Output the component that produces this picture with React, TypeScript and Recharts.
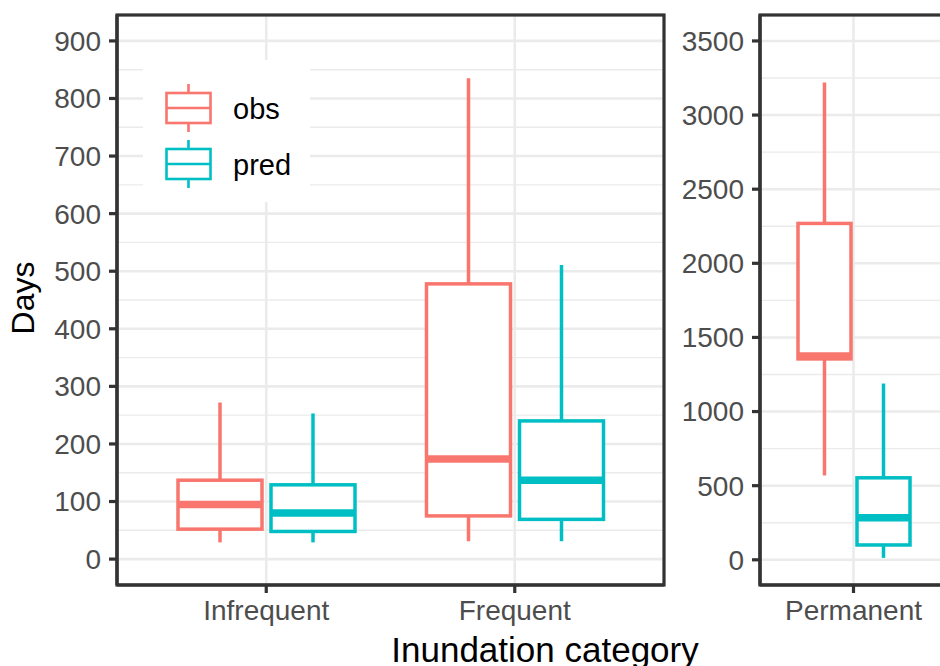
import React from 'react';
import { ComposedChart, Bar, XAxis, YAxis, CartesianGrid, Legend } from 'recharts';

// categories
const leftCategories = ['Infrequent', 'Frequent'];
const rightCategories = ['Permanent'];

// series
const seriesNames = ['obs', 'pred'];
const seriesColors = ['#F8766D', '#00BFC4'];

// box stats: [min, q1, median, q3, max]
const obsLeft = [
  [29, 52, 95, 137, 272],
  [31, 75, 174, 478, 835],
];
const predLeft = [
  [29, 48, 80, 129, 253],
  [31, 69, 137, 240, 511],
];
const obsRight = [[569, 1355, 1375, 2269, 3220]];
const predRight = [[13, 100, 284, 553, 1189]];

// ticks
const leftTicks = [0, 100, 200, 300, 400, 500, 600, 700, 800, 900];
const leftMinor = [50, 150, 250, 350, 450, 550, 650, 750, 850];
const rightTicks = [0, 500, 1000, 1500, 2000, 2500, 3000, 3500];
const rightMinor = [250, 750, 1250, 1750, 2250, 2750, 3250];
const leftDomain = [-45, 945];
const rightDomain = [-170, 3675];

const FONT = '"Liberation Sans", Arial, sans-serif';
const FRAME = '#333333';
const GRID = '#EBEBEB';

const buildRows = (cats: string[], obs: number[][], pred: number[][]) =>
  cats.map((c, i) => ({ category: c, obs: obs[i], pred: pred[i] }));

const leftRows = buildRows(leftCategories, obsLeft, predLeft);
const rightRows = buildRows(rightCategories, obsRight, predRight);

const makeBoxShape = (key: string, color: string) => (props: any) => {
  const { x, y, width, height, payload } = props;
  const s = payload[key];
  const mn = s[0], q1 = s[1], md = s[2], q3 = s[3], mx = s[4];
  const top = Math.min(y, y + height);
  const h = Math.abs(height);
  const py = (v: number) => top + (h * (mx - v)) / (mx - mn);
  const cx = x + width / 2;
  return (
    <g>
      <line x1={cx} x2={cx} y1={py(mx)} y2={py(q3)} stroke={color} strokeWidth={3.5} />
      <line x1={cx} x2={cx} y1={py(q1)} y2={py(mn)} stroke={color} strokeWidth={3.5} />
      <rect x={x} y={py(q3)} width={width} height={py(q1) - py(q3)} fill="#FFFFFF" stroke={color} strokeWidth={3.5} />
      <line x1={x} x2={x + width} y1={py(md)} y2={py(md)} stroke={color} strokeWidth={7.5} />
    </g>
  );
};

const LegendContent = () => (
  <div style={{ width: 167, height: 142, background: '#FFFFFF' }}>
    <svg width={167} height={142}>
      {seriesNames.map((n, i) => {
        const cy = 48 + i * 56;
        const cx = 45.5;
        const c = seriesColors[i];
        return (
          <g key={n}>
            <line x1={cx} x2={cx} y1={cy - 24} y2={cy + 24} stroke={c} strokeWidth={2.6} />
            <rect x={cx - 22} y={cy - 15} width={44} height={30} fill="#FFFFFF" stroke={c} strokeWidth={2.6} />
            <line x1={cx - 22} x2={cx + 22} y1={cy} y2={cy} stroke={c} strokeWidth={2.6} />
            <text x={90} y={cy + 10.5} fontFamily={FONT} fontSize={29} fill="#000000">
              {n}
            </text>
          </g>
        );
      })}
    </svg>
  </div>
);

const tickStyle = { fill: '#4D4D4D', fontSize: 28, fontFamily: FONT };

const Panel = ({ rows, ticks, minor, domain, width, yWidth, marginRight, padding, barSize, barGap, legend }: any) => (
  <ComposedChart
    width={width}
    height={666}
    data={rows}
    margin={{ top: 15, right: marginRight, left: 0, bottom: 41 }}
    barGap={barGap}
  >
    <CartesianGrid horizontalValues={minor} vertical={false} stroke={GRID} strokeWidth={1.4} />
    <CartesianGrid stroke={GRID} strokeWidth={2.6} />
    <XAxis
      dataKey="category"
      type="category"
      padding={padding}
      height={40}
      tickSize={8}
      tickMargin={7}
      tick={tickStyle}
      tickLine={{ stroke: FRAME, strokeWidth: 3.2 }}
      axisLine={{ stroke: FRAME, strokeWidth: 3.2 }}
      interval={0}
    />
    <YAxis
      type="number"
      domain={domain}
      ticks={ticks}
      interval={0}
      allowDataOverflow
      width={yWidth}
      tickSize={8}
      tickMargin={8}
      tick={tickStyle}
      tickLine={{ stroke: FRAME, strokeWidth: 3.2 }}
      axisLine={{ stroke: FRAME, strokeWidth: 3.2 }}
    />
    {seriesNames.map((n, i) => (
      <Bar
        key={n}
        name={n}
        dataKey={(row: any) => [row[n][0], row[n][4]]}
        fill={seriesColors[i]}
        barSize={barSize}
        isAnimationActive={false}
        shape={makeBoxShape(n, seriesColors[i])}
      />
    ))}
    {legend && (
      <Legend
        layout="vertical"
        align="center"
        verticalAlign="middle"
        content={<LegendContent />}
        wrapperStyle={{ left: 143, top: 60, width: 167, height: 142 }}
      />
    )}
  </ComposedChart>
);

export default function App() {
  return (
    <div
      style={{
        position: 'absolute',
        left: 0,
        top: 0,
        width: 940,
        height: 666,
        overflow: 'hidden',
        background: '#FFFFFF',
      }}
    >
      <div style={{ position: 'absolute', left: 0, top: 0 }}>
        <Panel
          rows={leftRows}
          ticks={leftTicks}
          minor={leftMinor}
          domain={leftDomain}
          width={680}
          yWidth={117}
          marginRight={16}
          padding={{ left: 25, right: 25 }}
          barSize={84}
          barGap={9}
          legend
        />
      </div>
      <div style={{ position: 'absolute', left: 660, top: 0 }}>
        <Panel
          rows={rightRows}
          ticks={rightTicks}
          minor={rightMinor}
          domain={rightDomain}
          width={300}
          yWidth={100}
          marginRight={13}
          padding={{ left: 0, right: 0 }}
          barSize={53}
          barGap={6}
          legend={false}
        />
      </div>
      <svg
        width={940}
        height={666}
        style={{ position: 'absolute', left: 0, top: 0, pointerEvents: 'none' }}
      >
        {/* panel borders */}
        <rect x={117} y={15} width={547} height={570} fill="none" stroke={FRAME} strokeWidth={3.2} />
        <rect x={760} y={15} width={187} height={570} fill="none" stroke={FRAME} strokeWidth={3.2} />
        <text x={545} y={662} textAnchor="middle" fontFamily={FONT} fontSize={35} fill="#000000">
          Inundation category
        </text>
        <text
          x={34}
          y={298}
          textAnchor="middle"
          transform="rotate(-90, 34, 298)"
          fontFamily={FONT}
          fontSize={32}
          fill="#000000"
        >
          Days
        </text>
      </svg>
    </div>
  );
}
